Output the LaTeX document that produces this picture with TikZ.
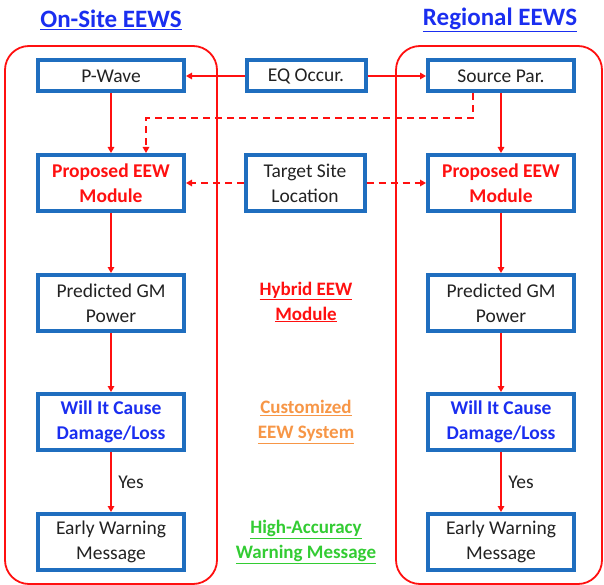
\documentclass[tikz,border=0pt]{standalone}
\usepackage{fontspec}
\setmainfont{Carlito}
\usetikzlibrary{arrows.meta}
\definecolor{boxblue}{HTML}{1F6EBF}
\definecolor{tblue}{HTML}{1A2EF0}
\definecolor{rred}{HTML}{FF1010}
\definecolor{oorange}{HTML}{F79646}
\definecolor{ggreen}{HTML}{33CC33}
\definecolor{txt}{HTML}{222222}
\tikzset{
  x=1pt,y=1pt,
  blk/.style={draw=boxblue,line width=4pt,fill=white,minimum width=146pt,align=center,text=txt,font=\fontsize{19.5}{25}\selectfont,inner sep=0pt},
  short/.style={blk,minimum height=31pt},
  tall/.style={blk,minimum height=56pt},
  mid/.style={draw=boxblue,line width=4pt,fill=white,minimum width=119pt,align=center,text=txt,font=\fontsize{19.5}{25}\selectfont,inner sep=0pt},
  arr/.style={draw=rred,line width=2pt,-{Triangle[length=6pt,width=6.5pt]}},
  darr/.style={arr,dash pattern=on 7pt off 5pt},
  grp/.style={draw=rred,line width=1.8pt,rounded corners=24pt},
  lbl/.style={font=\fontsize{19}{25}\selectfont\bfseries,align=center},
  ttl/.style={font=\fontsize{25}{30}\selectfont\bfseries,text=tblue}
}
\begin{document}
\begin{tikzpicture}
\useasboundingbox (0,0) rectangle (604,-585);
\fill[white] (0,0) rectangle (604,-585);
% group frames
\draw[grp] (5,-46) rectangle (217,-584);
\draw[grp] (396,-46) rectangle (602,-584);
% titles
\node[ttl] (t1) at (111,-20) {\underline{On-Site EEWS}};
\node[ttl] (t2) at (500,-20) {\underline{Regional EEWS}};
% left column
\node[short] (pw) at (111,-76) {P-Wave};
\node[tall] (pl) at (111,-183) {\textcolor{rred}{\bfseries Proposed EEW}\\\textcolor{rred}{\bfseries Module}};
\node[tall] (gl) at (111,-303) {Predicted GM\\Power};
\node[tall] (wl) at (111,-422) {\textcolor{tblue}{\bfseries Will It Cause}\\\textcolor{tblue}{\bfseries Damage/Loss}};
\node[tall] (el) at (111,-542) {Early Warning\\Message};
% right column
\node[short] (sp) at (501,-76) {Source Par.};
\node[tall] (pr) at (501,-183) {\textcolor{rred}{\bfseries Proposed EEW}\\\textcolor{rred}{\bfseries Module}};
\node[tall] (gr) at (501,-303) {Predicted GM\\Power};
\node[tall] (wr) at (501,-422) {\textcolor{tblue}{\bfseries Will It Cause}\\\textcolor{tblue}{\bfseries Damage/Loss}};
\node[tall] (er) at (501,-542) {Early Warning\\Message};
% middle
\node[mid,minimum height=31pt] (eq) at (306,-76) {EQ Occur.};
\node[mid,minimum height=56pt] (ts) at (305,-183) {Target Site\\Location};
\node[lbl,text=rred] (h1) at (306,-302) {\underline{Hybrid EEW}\\\underline{Module}};
\node[lbl,text=oorange] (h2) at (306,-422) {\underline{Customized}\\\underline{EEW System}};
\node[lbl,text=ggreen] (h3) at (306,-542) {\underline{High-Accuracy}\\\underline{Warning Message}};
% arrows
\draw[arr] (eq.west) -- (pw.east);
\draw[arr] (eq.east) -- (sp.east -| sp.west);
\draw[darr] (ts.west) -- (ts.west -| pl.east);
\draw[darr] (ts.east) -- (ts.east -| pr.west);
\draw[arr] (pw) -- (pl);
\draw[arr] (sp) -- (pr);
\coordinate (d1) at ([xshift=-28pt]sp.south);
\coordinate (d2) at ([xshift=35pt]pl.north);
\coordinate (dc) at (0,-118);
\draw[darr] (d1) -- (d1 |- dc) -- (d2 |- dc) -- (d2);
\draw[arr] (pl) -- (gl);
\draw[arr] (gl) -- (wl);
\draw[arr] (wl) -- node[right=3pt,text=txt,font=\fontsize{19.5}{25}\selectfont] (y1) {Yes} (el);
\draw[arr] (pr) -- (gr);
\draw[arr] (gr) -- (wr);
\draw[arr] (wr) -- node[right=3pt,text=txt,font=\fontsize{19.5}{25}\selectfont] (y2) {Yes} (er);
\end{tikzpicture}
\end{document}
